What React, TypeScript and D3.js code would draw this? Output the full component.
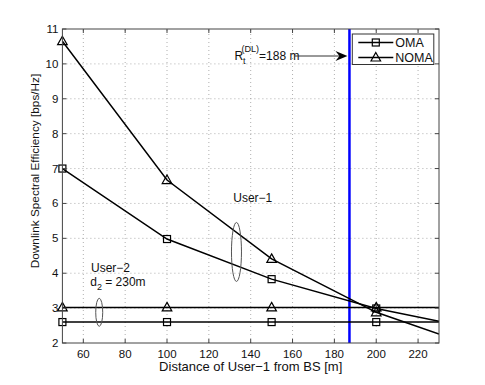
import React, { useEffect, useRef } from 'react';
import * as d3 from 'd3';

// x values (distance of user-1 from BS, m); the last one is the axis edge
const distances = [50, 100, 150, 200, 230];
const markerCount = 4; // markers only at 50..200

const omaUser1 = [7.0, 4.98, 3.83, 2.99, 2.62];
const nomaUser1 = [10.65, 6.67, 4.41, 2.88, 2.26];
const omaUser2 = [2.6, 2.6, 2.6, 2.6, 2.6];
const nomaUser2 = [3.02, 3.02, 3.02, 3.02, 3.02];

const xTicks = [60, 80, 100, 120, 140, 160, 180, 200, 220];
const yTicks = [2, 3, 4, 5, 6, 7, 8, 9, 10, 11];
const thresholdDistance = 187.2;
const legendLabels = ['OMA', 'NOMA'];

const App = () => {
  const svgRef = useRef<SVGSVGElement>(null);

  useEffect(() => {
    const width = 485;
    const height = 385;
    const margin = { top: 29, right: 46, bottom: 42, left: 62.4 };
    const font = 'Liberation Sans, Arial, Helvetica, sans-serif';

    const svg = d3.select(svgRef.current);
    svg.selectAll('*').remove();
    svg.attr('width', width).attr('height', height);

    const x = d3.scaleLinear().domain([50, 230]).range([margin.left, width - margin.right]);
    const y = d3.scaleLinear().domain([2, 11]).range([height - margin.bottom, margin.top]);
    const [x0, x1] = x.range();
    const [y0, y1] = y.range();

    svg.append('rect').attr('width', width).attr('height', height).attr('fill', 'white');

    // Grid (dotted)
    const grid = svg.append('g').attr('stroke', '#9a9a9a').attr('stroke-width', 0.8).attr('stroke-dasharray', '1,3');
    xTicks.forEach((t) => {
      grid.append('line').attr('x1', x(t)).attr('x2', x(t)).attr('y1', y0).attr('y2', y1);
    });
    yTicks.slice(1, -1).forEach((t) => {
      grid.append('line').attr('x1', x0).attr('x2', x1).attr('y1', y(t)).attr('y2', y(t));
    });

    // Threshold line
    svg
      .append('line')
      .attr('x1', x(thresholdDistance))
      .attr('x2', x(thresholdDistance))
      .attr('y1', y0)
      .attr('y2', y1)
      .attr('stroke', '#0000ff')
      .attr('stroke-width', 2.5);

    const line = d3
      .line<number>()
      .x((_, i) => x(distances[i]))
      .y((d) => y(d));

    const series = [
      { values: omaUser1, marker: 'square' },
      { values: nomaUser1, marker: 'triangle' },
      { values: omaUser2, marker: 'square' },
      { values: nomaUser2, marker: 'triangle' },
    ];

    svg
      .append('defs')
      .append('clipPath')
      .attr('id', 'plot-clip')
      .append('rect')
      .attr('x', x0)
      .attr('y', y1)
      .attr('width', x1 - x0)
      .attr('height', y0 - y1);

    const drawMarker = (g, type, cx, cy) => {
      if (type === 'square') {
        g.append('rect')
          .attr('x', cx - 3.5)
          .attr('y', cy - 3.5)
          .attr('width', 7)
          .attr('height', 7)
          .attr('fill', 'none')
          .attr('stroke', 'black')
          .attr('stroke-width', 1.2);
      } else {
        g.append('path')
          .attr('d', `M${cx},${cy - 5}L${cx + 4.8},${cy + 3.5}L${cx - 4.8},${cy + 3.5}Z`)
          .attr('fill', 'none')
          .attr('stroke', 'black')
          .attr('stroke-width', 1.2);
      }
    };

    series.forEach((s) => {
      svg
        .append('path')
        .datum(s.values)
        .attr('fill', 'none')
        .attr('stroke', 'black')
        .attr('stroke-width', 1.5)
        .attr('clip-path', 'url(#plot-clip)')
        .attr('d', line);
      const g = svg.append('g');
      s.values.slice(0, markerCount).forEach((v, i) => drawMarker(g, s.marker, x(distances[i]), y(v)));
    });

    // Axes box + inward ticks
    const axisG = svg.append('g').attr('stroke', '#444').attr('stroke-width', 1);
    axisG
      .append('rect')
      .attr('x', x0)
      .attr('y', y1)
      .attr('width', x1 - x0)
      .attr('height', y0 - y1)
      .attr('fill', 'none');
    xTicks.forEach((t) => {
      axisG.append('line').attr('x1', x(t)).attr('x2', x(t)).attr('y1', y0).attr('y2', y0 - 4);
      axisG.append('line').attr('x1', x(t)).attr('x2', x(t)).attr('y1', y1).attr('y2', y1 + 4);
    });
    yTicks.forEach((t) => {
      axisG.append('line').attr('x1', x0).attr('x2', x0 + 4).attr('y1', y(t)).attr('y2', y(t));
      axisG.append('line').attr('x1', x1).attr('x2', x1 - 4).attr('y1', y(t)).attr('y2', y(t));
    });

    // Tick labels
    const labels = svg.append('g').attr('font-family', font).attr('font-size', 11.5).attr('fill', '#111');
    xTicks.forEach((t) => {
      labels.append('text').attr('x', x(t)).attr('y', y0 + 15).attr('text-anchor', 'middle').text(t);
    });
    yTicks.forEach((t) => {
      labels
        .append('text')
        .attr('x', x0 - 4)
        .attr('y', y(t) + 4)
        .attr('text-anchor', 'end')
        .text(t);
    });

    // Axis titles
    svg
      .append('text')
      .attr('x', (x0 + x1) / 2)
      .attr('y', 371)
      .attr('text-anchor', 'middle')
      .attr('font-family', font)
      .attr('font-size', 13)
      .attr('fill', '#111')
      .text('Distance of User\u22121 from BS [m]');
    svg
      .append('text')
      .attr('transform', 'rotate(-90)')
      .attr('x', -171)
      .attr('y', 39)
      .attr('text-anchor', 'middle')
      .attr('font-family', font)
      .attr('font-size', 11.8)
      .attr('fill', '#111')
      .text('Downlink Spectral Efficiency [bps/Hz]');

    // Ellipse annotations
    const ann = svg.append('g').attr('fill', 'none').attr('stroke', '#555').attr('stroke-width', 1);
    ann.append('ellipse').attr('cx', x(133.2)).attr('cy', y(4.61)).attr('rx', 5).attr('ry', 29.5);
    ann.append('ellipse').attr('cx', x(67.6)).attr('cy', y(2.88)).attr('rx', 3.5).attr('ry', 14);

    const annText = svg.append('g').attr('font-family', font).attr('font-size', 12).attr('fill', '#111');
    annText.append('text').attr('x', x(141)).attr('y', y(5.0) - 36.5).attr('text-anchor', 'middle').text('User\u22121');
    annText.append('text').attr('x', x(73)).attr('y', y(3.0) - 36).attr('text-anchor', 'middle').text('User\u22122');
    const d2 = annText.append('text').attr('x', x(63.3)).attr('y', y(3.0) - 22);
    d2.append('tspan').text('d');
    d2.append('tspan').attr('font-size', 9).attr('dy', 4).text('2');
    d2.append('tspan').attr('dy', -4).text(' = 230m');

    // Threshold annotation
    const rt = annText.append('text').attr('x', x(132.2)).attr('y', 60);
    rt.append('tspan').text('R');
    rt.append('tspan').attr('font-size', 9).attr('dy', 4).text('t');
    rt.append('tspan').attr('font-size', 9).attr('dx', -4).attr('dy', -12).text('(DL)');
    rt.append('tspan').attr('dy', 8).text('=188 m');

    const ax0 = x(161);
    const ax1 = x(thresholdDistance) - 2;
    const ay = 56;
    svg
      .append('line')
      .attr('x1', ax0)
      .attr('x2', ax1 - 6)
      .attr('y1', ay)
      .attr('y2', ay)
      .attr('stroke', '#333')
      .attr('stroke-width', 1);
    svg
      .append('path')
      .attr('d', `M${ax1},${ay}L${ax1 - 12},${ay - 5}L${ax1 - 8},${ay}L${ax1 - 12},${ay + 5}Z`)
      .attr('fill', 'black');

    // Legend
    const lx = 352.3;
    const ly = 34;
    const legend = svg.append('g');
    legend
      .append('rect')
      .attr('x', lx)
      .attr('y', ly)
      .attr('width', 81.5)
      .attr('height', 30.5)
      .attr('fill', 'white')
      .attr('stroke', '#333')
      .attr('stroke-width', 1);
    legendLabels.forEach((label, i) => {
      const cy = ly + 8.5 + i * 15;
      legend
        .append('line')
        .attr('x1', lx + 6)
        .attr('x2', lx + 41)
        .attr('y1', cy)
        .attr('y2', cy)
        .attr('stroke', 'black')
        .attr('stroke-width', 1.5);
      drawMarker(legend, i === 0 ? 'square' : 'triangle', lx + 23.5, cy);
      legend
        .append('text')
        .attr('x', lx + 43)
        .attr('y', cy + 4.5)
        .attr('font-family', font)
        .attr('font-size', 12.5)
        .attr('fill', '#111')
        .text(label);
    });
  }, []);

  return (
    <div style={{ position: 'absolute', left: 0, top: 0, width: 485, height: 385, background: 'white' }}>
      <svg ref={svgRef} style={{ display: 'block' }}></svg>
    </div>
  );
};

export default App;
